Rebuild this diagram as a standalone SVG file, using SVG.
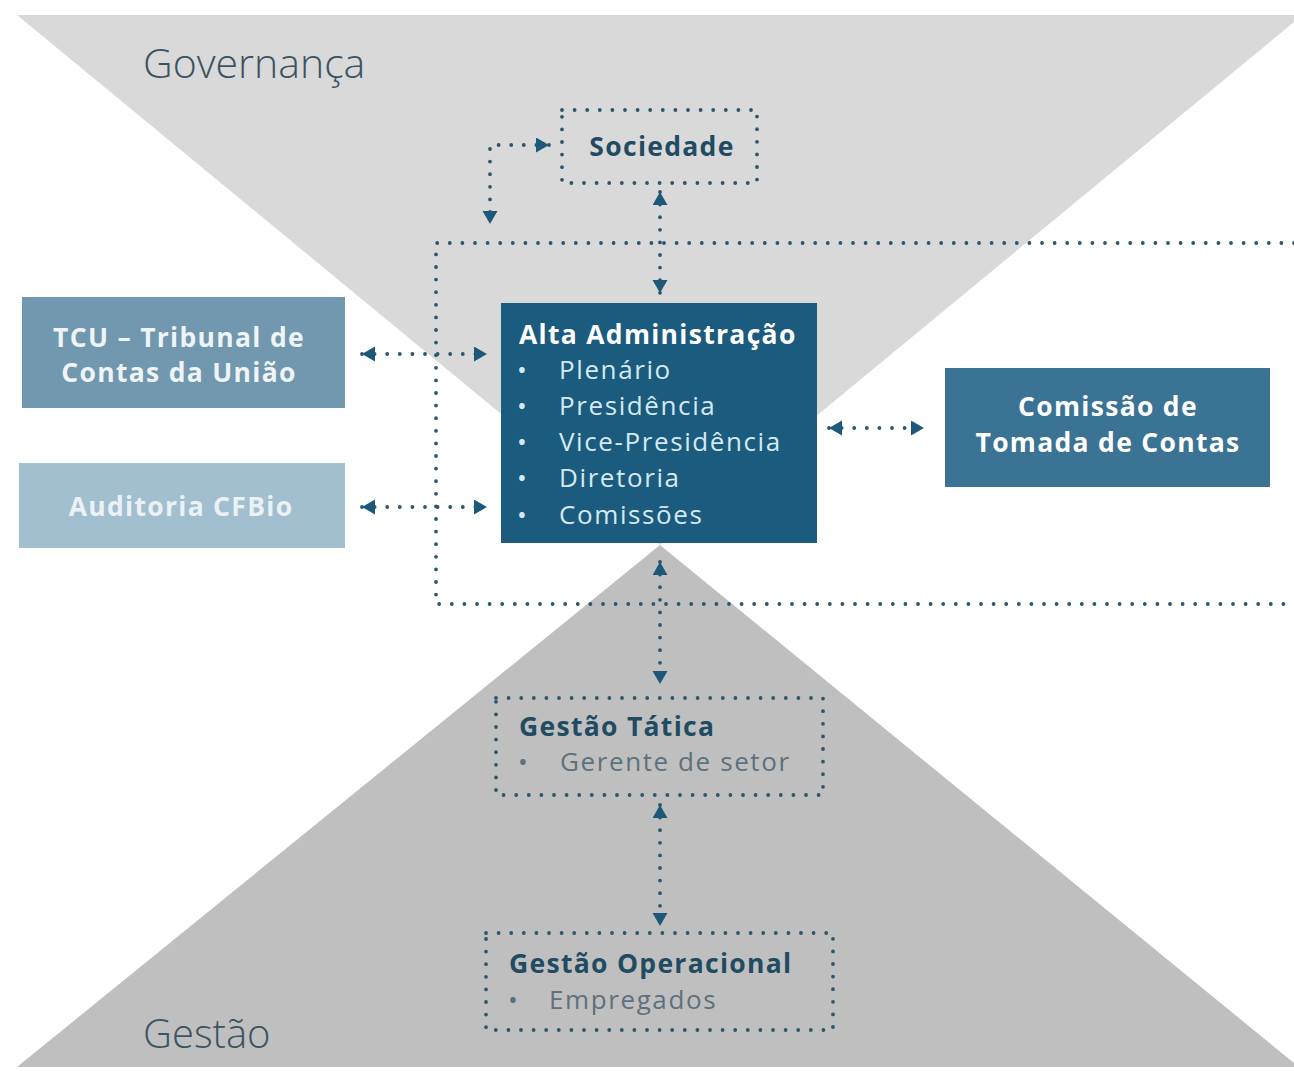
<svg xmlns="http://www.w3.org/2000/svg" width="1294" height="1071" viewBox="0 0 1294 1071">
<style>
.dot{fill:none;stroke:#2b566c;stroke-width:3.8;stroke-linecap:round;stroke-dasharray:0 12.6}
.con{fill:none;stroke:#2b566c;stroke-width:3.8;stroke-linecap:round;stroke-dasharray:0 12.6}
.big{font-family:"Open Sans","DejaVu Sans",sans-serif;font-weight:300;font-size:41px;fill:#3c5361}
.hd{font-family:"Open Sans","DejaVu Sans",sans-serif;font-weight:700;font-size:26.5px;letter-spacing:1.3px}
.it{font-family:"Open Sans","DejaVu Sans",sans-serif;font-weight:400;font-size:26px;letter-spacing:1.6px}
.w{fill:#ffffff}
.dk{fill:#1f4c63}
</style>
<defs>
<marker id="ah" markerUnits="userSpaceOnUse" markerWidth="16" markerHeight="16" refX="13" refY="7.5" orient="auto-start-reverse">
<path d="M0,0 L13,7.5 L0,15 z" fill="#1d5878"/>
</marker>
</defs>
<rect width="1294" height="1071" fill="#ffffff"/>
<polygon points="17,15 1294,15 1294,22 660,545" fill="#d9d9d9"/>
<polygon points="660,545 1294,1063 1294,1067 17,1067" fill="#bfbfbf"/>
<text class="big" x="143" y="78">Governança</text>
<text class="big" x="143" y="1048" style="font-size:40px">Gestão</text>
<g id="fronteira">
<path class="dot" d="M1294,243 L436,243 L436,604 L1294,604"/>
</g>
<g id="sociedade">
<rect class="dot" x="562" y="110" width="195" height="73"/>
<text class="hd dk" x="662" y="156" text-anchor="middle">Sociedade</text>
</g>
<g id="tcu">
<rect x="22" y="297" width="323" height="111" fill="#7198af"/>
<text class="hd" x="179" y="347" text-anchor="middle" fill="#eef4f7">TCU – Tribunal  de</text>
<text class="hd" x="179" y="382" text-anchor="middle" fill="#eef4f7">Contas da União</text>
</g>
<g id="auditoria">
<rect x="19" y="463" width="326" height="85" fill="#a2bfcf"/>
<text class="hd" x="181" y="516" text-anchor="middle" fill="#eaf2f6">Auditoria  CFBio</text>
</g>
<g id="alta">
<rect x="501" y="303" width="316" height="240" fill="#1b5b7e"/>
<text class="hd w" x="519" y="344">Alta Administração</text>
<g class="it" fill="#d5e9f2">
<text x="517" y="379">•</text><text x="559" y="379">Plenário</text>
<text x="517" y="415">•</text><text x="559" y="415">Presidência</text>
<text x="517" y="451">•</text><text x="559" y="451">Vice-Presidência</text>
<text x="517" y="487">•</text><text x="559" y="487">Diretoria</text>
<text x="517" y="524">•</text><text x="559" y="524">Comissões</text>
</g>
</g>
<g id="comissao">
<rect x="945" y="368" width="325" height="119" fill="#3a7394"/>
<text class="hd w" x="1108" y="416" text-anchor="middle">Comissão de</text>
<text class="hd w" x="1108" y="452" text-anchor="middle">Tomada de Contas</text>
</g>
<g id="tatica">
<rect class="dot" x="496" y="698" width="327" height="97"/>
<text class="hd dk" x="519" y="736">Gestão Tática</text>
<text class="it" x="518" y="771" fill="#5e717c">•</text>
<text class="it" x="560" y="771" fill="#5e717c">Gerente de setor</text>
</g>
<g id="operacional">
<rect class="dot" x="486" y="933" width="347" height="97"/>
<text class="hd dk" x="509" y="973">Gestão Operacional</text>
<text class="it" x="508" y="1009" fill="#5e717c">•</text>
<text class="it" x="549" y="1009" fill="#5e717c">Empregados</text>
</g>
<g id="conectores">
<path class="con" d="M549,145 L490,145 L490,224" marker-start="url(#ah)" marker-end="url(#ah)"/>
<line class="con" x1="660" y1="192" x2="660" y2="293" marker-start="url(#ah)" marker-end="url(#ah)"/>
<line class="con" x1="362" y1="354" x2="487" y2="354" marker-start="url(#ah)" marker-end="url(#ah)"/>
<line class="con" x1="362" y1="507" x2="487" y2="507" marker-start="url(#ah)" marker-end="url(#ah)"/>
<line class="con" x1="829" y1="428" x2="924" y2="428" marker-start="url(#ah)" marker-end="url(#ah)"/>
<line class="con" x1="660" y1="562" x2="660" y2="684" marker-start="url(#ah)" marker-end="url(#ah)"/>
<line class="con" x1="660" y1="805" x2="660" y2="926" marker-start="url(#ah)" marker-end="url(#ah)"/>
</g>
</svg>
